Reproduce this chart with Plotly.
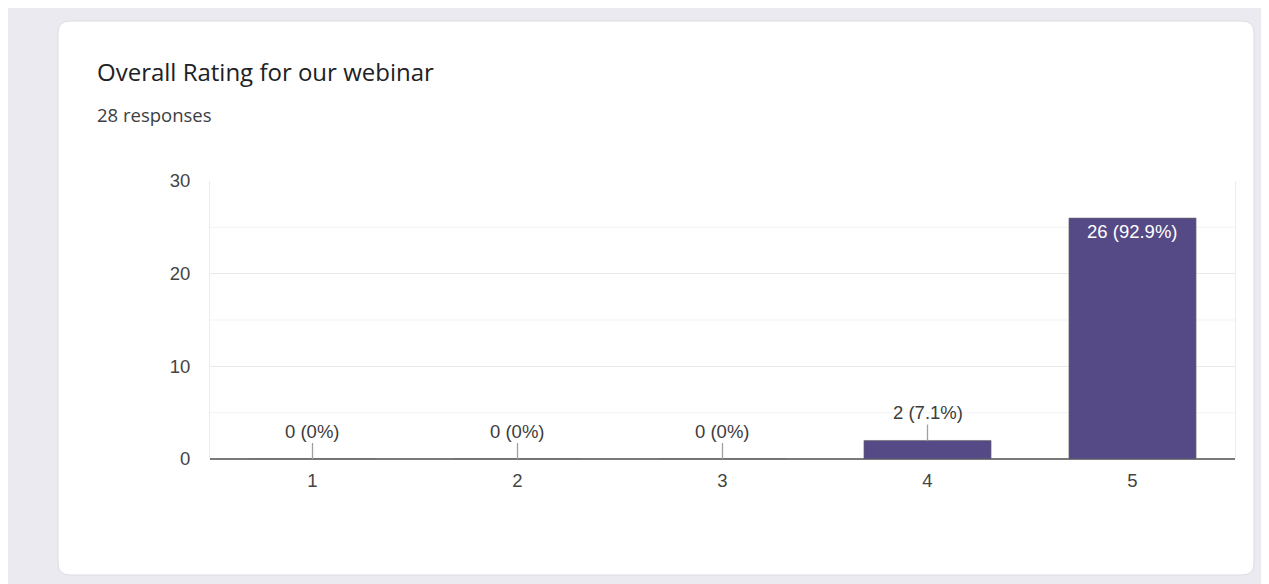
import plotly.graph_objects as go

categories = ["1", "2", "3", "4", "5"]
counts = [0, 0, 0, 2, 26]
total_responses = 28
y_ticks = [0, 10, 20, 30]
title_text = "Overall Rating for our webinar"
subtitle_text = "28 responses"

OFF = 8  # page body margin
W, H = 1269, 584
L, R, T, B = 210 - OFF, 1235 - OFF, 181 - OFF, 459 - OFF  # plot area in figure pixels
pw, ph = R - L, B - T

def px(x):
    return (x - OFF - L) / pw

def py(y):
    return (B - (y - OFF)) / ph

BAR = "#554a85"
TF = 18.5
fig = go.Figure()
fig.add_trace(go.Bar(
    x=list(range(len(categories))), y=counts,
    marker=dict(color=BAR, line=dict(color="#6a6a6a", width=0.6)),
    width=0.62, hoverinfo="skip", showlegend=False,
))

shapes = []
# white card with rounded corners
x0, x1, y0, y1 = 58, 1254, 21, 575
r = 12
rx, ry = r / pw, r / ph
X0, X1, Y0, Y1 = px(x0), px(x1), py(y1), py(y0)
path = (f"M {X0+rx},{Y1} L {X1-rx},{Y1} Q {X1},{Y1} {X1},{Y1-ry} L {X1},{Y0+ry} "
        f"Q {X1},{Y0} {X1-rx},{Y0} L {X0+rx},{Y0} Q {X0},{Y0} {X0},{Y0+ry} L {X0},{Y1-ry} "
        f"Q {X0},{Y1} {X0+rx},{Y1} Z")
shapes.append(dict(type="path", xref="paper", yref="paper", path=path, fillcolor="#ffffff",
                   line=dict(color="#dcdce2", width=1), layer="below"))
# minor gridlines
for v in [5, 15, 25]:
    shapes.append(dict(type="line", xref="paper", yref="y", x0=0, x1=1, y0=v, y1=v,
                       line=dict(color="#f3f3f3", width=1), layer="below"))
fig.update_layout(shapes=shapes)

annotations = [
    dict(text=title_text, xref="paper", yref="paper", x=px(95), y=py(71), xanchor="left", yanchor="middle",
         showarrow=False, font=dict(family="Open Sans", size=24, color="#202124")),
    dict(text=subtitle_text, xref="paper", yref="paper", x=px(95), y=py(115), xanchor="left", yanchor="middle",
         showarrow=False, font=dict(family="Open Sans", size=18.5, color="#3c4043")),
]
for i, v in enumerate(counts):
    pct = v / total_responses * 100
    lab = f"{v} ({pct:.1f}%)" if v else f"{v} (0%)"
    if v >= 10:
        annotations.append(dict(text=lab, x=i, y=v, xref="x", yref="y", yanchor="top", yshift=-1,
                                showarrow=False, font=dict(family="Liberation Sans", size=TF, color="#ffffff")))
    else:
        annotations.append(dict(text=lab, x=i, y=v, xref="x", yref="y", showarrow=True, arrowhead=0,
                                arrowwidth=1.3, arrowcolor="#a0a0a0", ax=0, ay=-28, standoff=0,
                                font=dict(family="Liberation Sans", size=TF, color="#3c3c3c")))

fig.update_layout(
    width=W, height=H,
    margin=dict(l=L, r=W - R, t=T, b=H - B, pad=0),
    paper_bgcolor="#ebeaf1", plot_bgcolor="rgba(0,0,0,0)",
    annotations=annotations,
    xaxis=dict(range=[-0.5, 4.5], tickvals=list(range(len(categories))), ticktext=categories,
               showgrid=False, showline=False, zeroline=False, ticks="",
               tickfont=dict(family="Liberation Sans", size=TF, color="#444444"), ticklabelstandoff=8,
               fixedrange=True),
    yaxis=dict(range=[0, 30], tickvals=y_ticks, showgrid=True, gridcolor="#e9e9e9", gridwidth=1,
               zeroline=True, zerolinecolor="#7a7a7a", zerolinewidth=2,
               showline=True, mirror=True, linecolor="#ececec", linewidth=1,
               tickfont=dict(family="Liberation Sans", size=TF, color="#444444"), ticks="",
               ticklabelstandoff=15, fixedrange=True),
)

fig.write_html("out.html")
